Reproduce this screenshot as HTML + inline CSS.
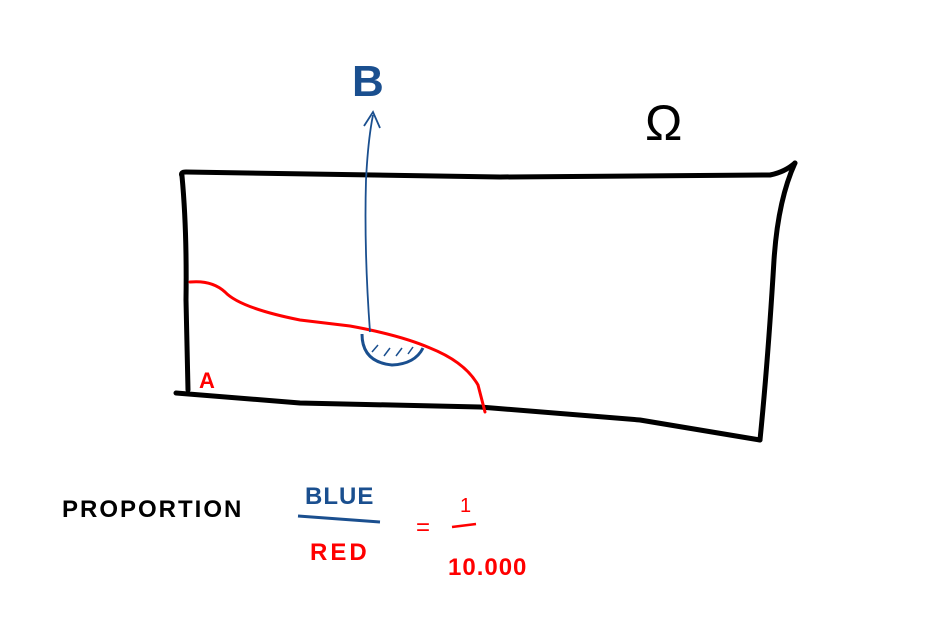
<!DOCTYPE html>
<html>
<head>
<meta charset="utf-8">
<style>
html,body{margin:0;padding:0;background:#fff;}
svg{display:block;}
text{font-family:"Liberation Sans",sans-serif;}
</style>
</head>
<body>
<svg width="943" height="632" viewBox="0 0 943 632">
  <g fill="none" stroke="#000" stroke-width="5" stroke-linecap="round" stroke-linejoin="round">
    <path d="M182 176 Q180 172 186 172 L500 177 L770 175 Q785 172 795 163"/>
    <path d="M795 163 Q778 200 774 260 Q768 360 760 440"/>
    <path d="M176 393 L300 403 L480 407 L640 420 L760 440"/>
    <path d="M182 176 Q187 230 186 300 L188 390"/>
  </g>
  <text x="645" y="140" font-size="50" font-family="Liberation Serif,serif" fill="#000">Ω</text>

  <path d="M190 282 Q212 280 225 292 Q240 308 300 320 L350 326 Q400 335 430 348 Q465 362 478 385 L485 412" fill="none" stroke="#f00" stroke-width="3" stroke-linecap="round"/>
  <text x="199" y="388" font-size="22" font-weight="bold" fill="#f00">A</text>

  <path d="M362 334 Q362 362 392 365 Q415 364 423 348" fill="none" stroke="#1a4f8f" stroke-width="3"/>
  <g stroke="#1a4f8f" stroke-width="1.5">
    <line x1="372" y1="352" x2="378" y2="345"/><line x1="384" y1="356" x2="390" y2="348"/><line x1="396" y1="356" x2="402" y2="348"/><line x1="408" y1="354" x2="413" y2="347"/>
  </g>
  <path d="M370 332 Q364 250 366 180 Q368 140 373 115" fill="none" stroke="#1a4f8f" stroke-width="1.8"/>
  <path d="M364 126 L373 112 L380 128" fill="none" stroke="#1a4f8f" stroke-width="1.8"/>
  <text x="352" y="96" font-size="44" font-weight="bold" fill="#1a4f8f">B</text>

  <text x="62" y="517" font-size="24" font-weight="bold" fill="#000" letter-spacing="2">PROPORTION</text>
  <text x="305" y="504" font-size="24" font-weight="bold" fill="#1a4f8f" letter-spacing="1">BLUE</text>
  <path d="M298 516 L380 522" stroke="#1a4f8f" stroke-width="3"/>
  <text x="310" y="560" font-size="24" font-weight="bold" fill="#f00" letter-spacing="3">RED</text>
  <text x="416" y="535" font-size="24" fill="#f00">=</text>
  <text x="460" y="512" font-size="20" fill="#f00">1</text>
  <path d="M452 527 L476 524" stroke="#f00" stroke-width="2.5"/>
  <text x="448" y="575" font-size="24" font-weight="bold" fill="#f00" letter-spacing="1">10.000</text>
</svg>
</body>
</html>
